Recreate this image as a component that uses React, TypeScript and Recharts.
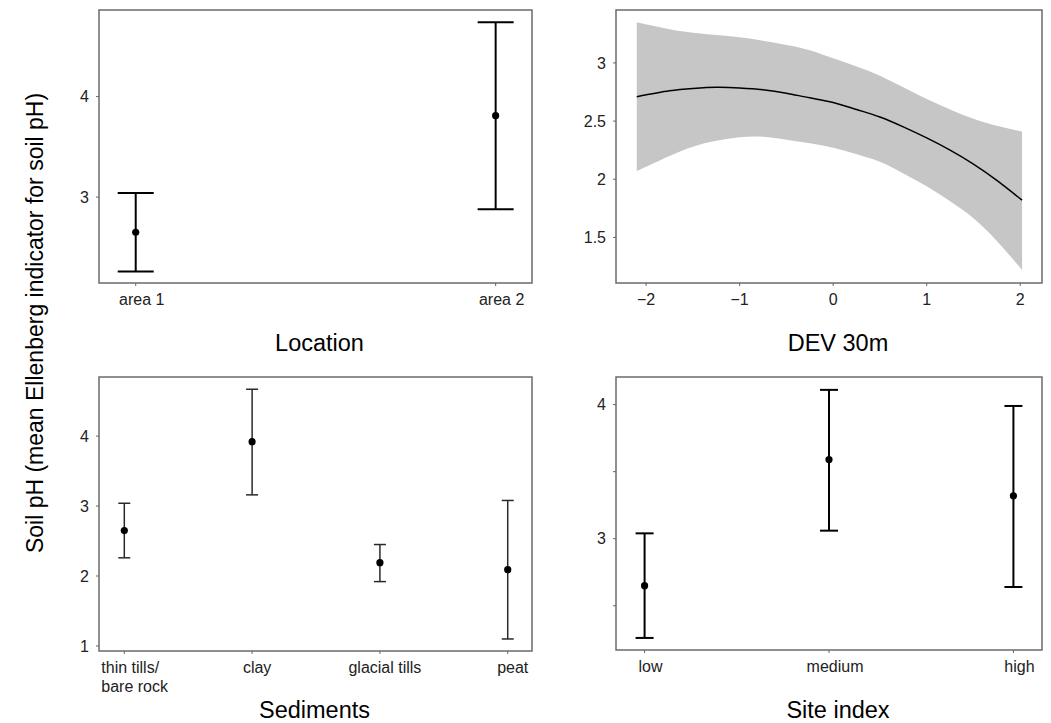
import React from 'react';
import { ComposedChart, Scatter, ErrorBar, XAxis, YAxis, ReferenceArea, Area, Line } from 'recharts';

const FONT = '"Liberation Sans", Arial, Helvetica, sans-serif';
const FRAME = '#6b6b6b';
const TICK_TXT = '#222';

// Location (top left)
const locCats = ['area 1', 'area 2'];
const locMean = [2.65, 3.81];
const locLow = [2.26, 2.88];
const locHigh = [3.04, 4.74];

// DEV 30m (top right): fitted line with confidence band
const devX = [-2.1, -1.75, -1.5, -1.25, -1, -0.75, -0.5, -0.25, 0, 0.25, 0.5, 0.75, 1, 1.25, 1.5, 1.75, 2.02];
const devFit = [2.71, 2.76, 2.78, 2.79, 2.785, 2.77, 2.74, 2.7, 2.66, 2.6, 2.535, 2.45, 2.355, 2.25, 2.13, 1.99, 1.82];
const devLo = [2.07, 2.2, 2.28, 2.33, 2.36, 2.365, 2.34, 2.31, 2.27, 2.215, 2.15, 2.05, 1.94, 1.81, 1.665, 1.47, 1.22];
const devHi = [3.35, 3.29, 3.26, 3.24, 3.22, 3.19, 3.155, 3.11, 3.04, 2.97, 2.89, 2.79, 2.69, 2.6, 2.52, 2.46, 2.41];

// Sediments (bottom left)
const sedCats = ['thin tills/\nbare rock', 'clay', 'glacial tills', 'peat'];
const sedMean = [2.65, 3.92, 2.19, 2.09];
const sedLow = [2.26, 3.16, 1.92, 1.1];
const sedHigh = [3.04, 4.67, 2.45, 3.08];

// Site index (bottom right)
const siteCats = ['low', 'medium', 'high'];
const siteMean = [2.65, 3.59, 3.32];
const siteLow = [2.26, 3.06, 2.64];
const siteHigh = [3.04, 4.11, 3.99];

const toRows = (mean: number[], low: number[], high: number[]) =>
  mean.map((m, i) => ({ x: i + 1, y: m, err: [m - low[i], high[i] - m] }));

const devRows = devX.map((x, i) => ({ x, fit: devFit[i], band: [devLo[i], devHi[i]] }));

const YW = 70;
const MT = 10;
const MR = 8;

const tickStyle = { fill: TICK_TXT, fontSize: 16, fontFamily: FONT };
const tickLine = { stroke: '#666', strokeWidth: 1 };

// R style minus sign on negative ticks
const minus = (v: number) => (v < 0 ? '\u2212' + Math.abs(v) : String(v));

const CatTick = (props: any) => {
  const { x, y, payload, labels, dx } = props;
  const lbl: string = labels[payload.value - 1] ?? '';
  const lines = lbl.split('\n');
  if (lines.length > 1) {
    return (
      <text x={x - 23} y={y} textAnchor="start" fill={TICK_TXT} fontSize={16} fontFamily={FONT}>
        {lines.map((l, i) => (
          <tspan key={i} x={x - 23} dy={i === 0 ? '0.71em' : 19}>{l}</tspan>
        ))}
      </text>
    );
  }
  return (
    <text x={x + dx} y={y} dy="0.71em" textAnchor="middle" fill={TICK_TXT} fontSize={16} fontFamily={FONT}>
      {lbl}
    </text>
  );
};

const Dot = (p: any) => <circle cx={p.cx} cy={p.cy} r={3.6} fill="#000" />;

type PanelProps = {
  l: number; t: number; r: number; b: number; xh: number;
  xDomain: [number, number]; yDomain: [number, number];
  xTicks: number[]; yTicks: number[];
  xTick: any; xFmt?: (v: number) => string; yFmt?: (v: number) => string;
  title: string; titleDx: number;
  data?: any[];
  children: React.ReactNode;
};

const Panel = ({ l, t, r, b, xh, xDomain, yDomain, xTicks, yTicks, xTick, xFmt, yFmt, title, titleDx, data, children }: PanelProps) => {
  const w = r - l + YW + MR;
  const h = b - t + MT + xh;
  return (
    <div style={{ position: 'absolute', left: l - YW, top: t - MT, width: w, height: h }}>
      <ComposedChart width={w} height={h} data={data} margin={{ top: MT, right: MR, left: 0, bottom: 0 }}>
        <XAxis
          type="number"
          dataKey="x"
          domain={xDomain}
          allowDataOverflow
          ticks={xTicks}
          interval={0}
          height={xh}
          axisLine={false}
          tickLine={tickLine}
          tickSize={3}
          tickMargin={8}
          tick={xTick}
          tickFormatter={xFmt}
          label={{ value: title, position: 'insideBottom', offset: 4, dx: titleDx, fill: '#000', fontSize: 23.5, fontFamily: FONT }}
        />
        <YAxis
          type="number"
          dataKey="y"
          domain={yDomain}
          allowDataOverflow
          ticks={yTicks}
          interval={0}
          width={YW}
          axisLine={false}
          tickLine={tickLine}
          tickSize={3}
          tickMargin={7}
          tick={tickStyle}
          tickFormatter={yFmt}
        />
        {children}
        <ReferenceArea
          x1={xDomain[0]}
          x2={xDomain[1]}
          y1={yDomain[0]}
          y2={yDomain[1]}
          fill="none"
          fillOpacity={0}
          stroke={FRAME}
          strokeWidth={1.5}
          ifOverflow="visible"
        />
      </ComposedChart>
    </div>
  );
};

export default function App() {
  return (
    <div style={{ position: 'fixed', left: 0, top: 0, width: 1051, height: 723, background: '#fff', overflow: 'hidden' }}>
      <svg width={60} height={723} style={{ position: 'absolute', left: 0, top: 0 }}>
        <text
          x={42.5}
          y={323}
          transform="rotate(-90, 42.5, 323)"
          textAnchor="middle"
          fill="#000"
          fontSize={23}
          fontFamily={FONT}
        >
          Soil pH (mean Ellenberg indicator for soil pH)
        </text>
      </svg>

      <Panel
        l={99} t={10} r={532} b={283} xh={72}
        xDomain={[0.898, 2.101]} yDomain={[2.145, 4.862]}
        xTicks={[1, 2]} yTicks={[3, 4]}
        xTick={<CatTick labels={locCats} dx={6} />}
        title="Location" titleDx={4}
      >
        <Scatter data={toRows(locMean, locLow, locHigh)} dataKey="y" shape={Dot} isAnimationActive={false}>
          <ErrorBar dataKey="err" direction="y" width={18} stroke="#000" strokeWidth={2} isAnimationActive={false} />
        </Scatter>
      </Panel>

      <Panel
        l={616} t={10} r={1042} b={283} xh={72}
        xDomain={[-2.322, 2.233]} yDomain={[1.108, 3.455]}
        xTicks={[-2, -1, 0, 1, 2]} yTicks={[1.5, 2, 2.5, 3]}
        xTick={tickStyle}
        xFmt={minus}
        title="DEV 30m" titleDx={9}
        data={devRows}
      >
        <Area
          type="natural"
          dataKey="band"
          stroke="none"
          fill="#c6c6c6"
          fillOpacity={1}
          isAnimationActive={false}
        />
        <Line type="natural" dataKey="fit" stroke="#000" strokeWidth={1.5} dot={false} isAnimationActive={false} />
      </Panel>

      <Panel
        l={99} t={377} r={532} b={651} xh={71}
        xDomain={[0.802, 4.19]} yDomain={[0.928, 4.845]}
        xTicks={[1, 2, 3, 4]} yTicks={[1, 2, 3, 4]}
        xTick={<CatTick labels={sedCats} dx={5} />}
        title="Sediments" titleDx={-1}
      >
        <Scatter data={toRows(sedMean, sedLow, sedHigh)} dataKey="y" shape={Dot} isAnimationActive={false}>
          <ErrorBar dataKey="err" direction="y" width={6} stroke="#2a2a2a" strokeWidth={1.5} isAnimationActive={false} />
        </Scatter>
      </Panel>

      <Panel
        l={616} t={377} r={1042} b={650} xh={72}
        xDomain={[0.845, 3.155]} yDomain={[2.17, 4.206]}
        xTicks={[1, 2, 3]} yTicks={[2.5, 3, 3.5, 4]}
        xTick={<CatTick labels={siteCats} dx={6} />}
        yFmt={(v: number) => (v === 3 || v === 4 ? String(v) : '')}
        title="Site index" titleDx={9}
      >
        <Scatter data={toRows(siteMean, siteLow, siteHigh)} dataKey="y" shape={Dot} isAnimationActive={false}>
          <ErrorBar dataKey="err" direction="y" width={9} stroke="#000" strokeWidth={2} isAnimationActive={false} />
        </Scatter>
      </Panel>
    </div>
  );
}
